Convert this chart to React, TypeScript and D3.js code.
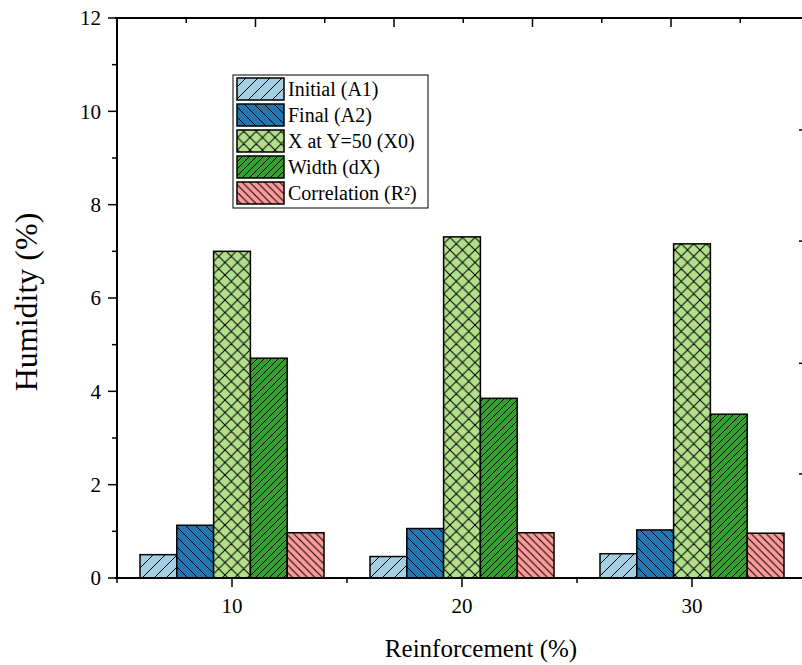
import React from "react";
import * as d3 from "d3";

const categories = [10, 20, 30];
const seriesNames = ["Initial (A1)", "Final (A2)", "X at Y=50 (X0)", "Width (dX)", "Correlation (R²)"];
const initialA1 = [0.5, 0.46, 0.52];
const finalA2 = [1.13, 1.06, 1.03];
const x0Values = [7.0, 7.31, 7.16];
const widthDX = [4.71, 3.85, 3.51];
const correlationR2 = [0.97, 0.97, 0.96];
const seriesValues = [initialA1, finalA2, x0Values, widthDX, correlationR2];
const yTicks = [0, 2, 4, 6, 8, 10, 12];
const xTicks = [10, 20, 30];

const colors = ["#a6cee3", "#1f78b4", "#b2df8a", "#33a02c", "#fb9a99"];
const patterns = [
  { kind: "fwd", p: 12 },
  { kind: "back", p: 10 },
  { kind: "cross", p: 12.5 },
  { kind: "fwd", p: 7 },
  { kind: "back", p: 7.5 },
];

const W = 802;
const H = 665;
const tStyle = { fontFamily: "Liberation Serif" };

function linePath(kind: string, p: number) {
  const fwd = `M0,${p} L${p},0 M${-p},${p} L0,0 M${p},${2 * p} L${2 * p},${p}`;
  const back = `M0,0 L${p},${p} M${-p},0 L0,${p} M0,${-p} L${p},0 M${p},0 L${2 * p},${p} M0,${p} L${p},${2 * p}`;
  if (kind === "fwd") return fwd;
  if (kind === "back") return back;
  return fwd + " " + back;
}

export default function App() {
  const x = d3.scaleLinear().domain([5, 35]).range([117, 807]);
  const y = d3.scaleLinear().domain([0, 12]).range([578, 18]);
  const xTop = d3.scaleLinear().domain([0, 5]).range([117, 809.5]);
  const barW = 1.6;

  const yMinor = d3.range(1, 12, 2);
  const xMinor = [5, 15, 25, 35];
  const topMajor = [0, 1, 2, 3, 4];
  const topMinor = [0.5, 1.5, 2.5, 3.5, 4.5];
  const rightTicks = [2.23, 4.6, 7.22, 9.6];

  const legendX = 233;
  const legendY = 75;
  const rowH = 26;

  return (
    <svg width={W} height={H} style={{ display: "block", position: "absolute", left: 0, top: 0 }}>
      <defs>
        {patterns.map((pt, i) => (
          <pattern key={i} id={`pat${i}`} patternUnits="userSpaceOnUse" width={pt.p} height={pt.p}>
            <rect width={pt.p} height={pt.p} fill={colors[i]} />
            <path d={linePath(pt.kind, pt.p)} stroke="#000" strokeWidth={1} fill="none" />
          </pattern>
        ))}
      </defs>
      <rect width={W} height={H} fill="#fff" />

      {/* bars */}
      <g>
        {categories.map((c, ci) =>
          seriesValues.map((vals, si) => {
            const left = c + (si - 2.5) * barW;
            const x1 = x(left);
            const x2 = x(left + barW);
            const yt = y(vals[ci]);
            return (
              <rect
                key={`${ci}-${si}`}
                x={x1}
                y={yt}
                width={x2 - x1}
                height={y(0) - yt}
                fill={`url(#pat${si})`}
                stroke="#000"
                strokeWidth={1.5}
              />
            );
          })
        )}
      </g>

      {/* axes lines */}
      <line x1={x(5)} x2={x(5)} y1={y(12) - 1} y2={y(0) + 1} stroke="#000" strokeWidth={2} />
      <line x1={x(5) - 2} x2={W} y1={y(0)} y2={y(0)} stroke="#000" strokeWidth={2} />
      <line x1={x(5) - 2} x2={W} y1={y(12)} y2={y(12)} stroke="#000" strokeWidth={2} />

      {/* left ticks */}
      {yTicks.map((t) => (
        <g key={`yt${t}`}>
          <line x1={x(5) - 9} x2={x(5)} y1={y(t)} y2={y(t)} stroke="#000" strokeWidth={1.5} />
          <text x={x(5) - 16} y={y(t)} dy="0.35em" textAnchor="end" fontSize={21} style={tStyle}>
            {t}
          </text>
        </g>
      ))}
      {yMinor.map((t) => (
        <line key={`ym${t}`} x1={x(5) - 5} x2={x(5)} y1={y(t)} y2={y(t)} stroke="#000" strokeWidth={1.5} />
      ))}

      {/* bottom ticks */}
      {xTicks.map((t) => (
        <g key={`xt${t}`}>
          <line x1={x(t)} x2={x(t)} y1={y(0)} y2={y(0) + 9} stroke="#000" strokeWidth={1.5} />
          <text x={x(t)} y={y(0) + 35} textAnchor="middle" fontSize={21} style={tStyle}>
            {t}
          </text>
        </g>
      ))}
      {xMinor.map((t) => (
        <line key={`xm${t}`} x1={x(t)} x2={x(t)} y1={y(0)} y2={y(0) + 5} stroke="#000" strokeWidth={1.5} />
      ))}

      {/* top ticks (inward) */}
      {topMajor.map((t) => (
        <line key={`tt${t}`} x1={xTop(t)} x2={xTop(t)} y1={y(12)} y2={y(12) + 9} stroke="#000" strokeWidth={1.5} />
      ))}
      {topMinor.map((t) => (
        <line key={`tm${t}`} x1={xTop(t)} x2={xTop(t)} y1={y(12)} y2={y(12) + 5} stroke="#000" strokeWidth={1.5} />
      ))}

      {/* right ticks (inward, axis line off-canvas) */}
      {rightTicks.map((t) => (
        <line key={`rt${t}`} x1={799} x2={806} y1={y(t)} y2={y(t)} stroke="#000" strokeWidth={1.5} />
      ))}

      {/* axis titles */}
      <text
        transform={`translate(37, 302) rotate(-90)`}
        textAnchor="middle"
        fontSize={32}
        style={tStyle}
      >
        Humidity (%)
      </text>
      <text x={481} y={657} textAnchor="middle" fontSize={25} style={tStyle}>
        Reinforcement (%)
      </text>

      {/* legend */}
      <g>
        <rect x={legendX} y={legendY} width={195} height={133} fill="#fff" stroke="#000" strokeWidth={1} />
        {seriesNames.map((name, i) => {
          const ry = legendY + 3 + i * rowH;
          return (
            <g key={name}>
              <rect x={legendX + 4} y={ry} width={47} height={22} fill={`url(#pat${i})`} stroke="#000" strokeWidth={1.5} />
              <text x={legendX + 55} y={ry + 11} dy="0.35em" fontSize={20} style={tStyle}>
                {name}
              </text>
            </g>
          );
        })}
      </g>
    </svg>
  );
}
